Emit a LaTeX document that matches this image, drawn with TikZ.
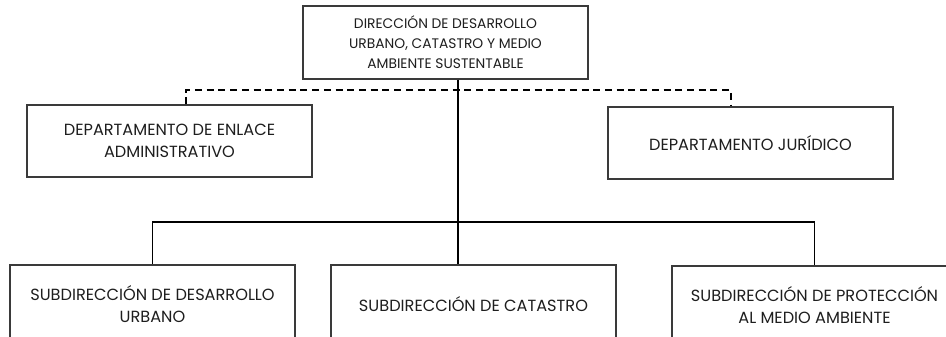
\documentclass[tikz,border=0pt]{standalone}
\usepackage{fontspec}
\setmainfont{Poppins}
\usetikzlibrary{positioning, calc}
\definecolor{cline}{HTML}{3A3A3A}
\definecolor{ctext}{HTML}{1E1E1E}
\tikzset{
  every picture/.style={line width=0.9pt},
  box/.style={draw=cline, fill=white, rectangle, align=center, minimum width=285*0.03cm, minimum height=73*0.03cm, inner sep=0pt, text=ctext},
  link/.style={draw=black, line width=1.2pt},
  dashlink/.style={draw=black, line width=1.2pt, dash pattern=on 6pt off 4pt},
}

\begin{document}
\begin{tikzpicture}[x=0.03cm, y=-0.03cm,
  top/.style={box, font=\fontsize{11.8}{17}\selectfont},
  dep/.style={box, minimum height=72*0.03cm, font=\fontsize{13.8}{18.8}\selectfont},
  sub/.style={box, minimum height=78*0.03cm, font=\fontsize{13.8}{18.8}\selectfont}]
  \useasboundingbox (0,0) rectangle (946,337);
  \clip (0,0) rectangle (946,337);
  % top level
  \node[top] (dir) at (445.5,42.5) {DIRECCIÓN DE DESARROLLO\\URBANO, CATASTRO Y MEDIO\\AMBIENTE SUSTENTABLE};
  % staff units
  \node[dep] (enlace) at (169.5,141) {DEPARTAMENTO DE ENLACE\\ADMINISTRATIVO};
  \node[dep] (juridico) at (750.5,143) {DEPARTAMENTO JURÍDICO};
  % subdirections
  \node[sub] (subdu) at (152.5,304) {SUBDIRECCIÓN DE DESARROLLO\\URBANO};
  \node[sub] (subcat) at (473.5,304) {SUBDIRECCIÓN DE CATASTRO};
  \node[sub] (subma) at (814.5,305) {SUBDIRECCIÓN DE PROTECCIÓN\\AL MEDIO AMBIENTE};
  % connectors
  \coordinate (spine) at (458,222);
  \coordinate (dl) at (186,90);
  \coordinate (dr) at (731,90);
  \draw[link] (dir.south -| spine) -- (subcat.north -| spine);
  \draw[link] (subdu.north) |- (spine) -| (subma.north);
  \draw[dashlink] (enlace.north -| dl) -- (dl) -- (dr) -- (juridico.north -| dr);
\end{tikzpicture}
\end{document}
